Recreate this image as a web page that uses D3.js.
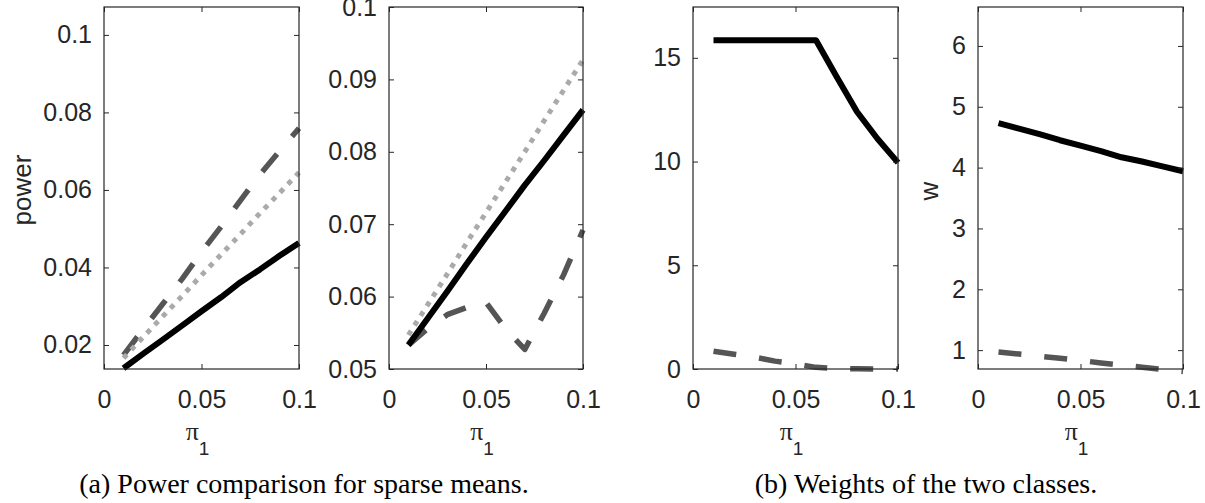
<!DOCTYPE html>
<html>
<head>
<meta charset="utf-8">
<script src="https://cdn.jsdelivr.net/npm/d3@7"></script>
<style>
  body { margin: 0; background: #fff; }
  svg { display: block; }
</style>
</head>
<body>
<div id="chart"></div>
<script>
// pi_1 values shared by every panel
const pi1 = [0.01, 0.02, 0.03, 0.04, 0.05, 0.06, 0.07, 0.08, 0.09, 0.1];

// (a) left panel: power
const powerA_solid  = [0.0140, 0.0177, 0.0213, 0.0250, 0.0287, 0.0323, 0.0362, 0.0395, 0.0430, 0.0463];
const powerA_dashed = [0.0174, 0.0240, 0.0305, 0.0370, 0.0440, 0.0505, 0.0573, 0.0640, 0.0700, 0.0759];
const powerA_dotted = [0.0166, 0.0220, 0.0273, 0.0326, 0.0380, 0.0433, 0.0486, 0.0540, 0.0592, 0.0645];

// (a) right panel: power
const powerB_solid  = [0.0533, 0.0570, 0.0607, 0.0645, 0.0682, 0.0718, 0.0754, 0.0788, 0.0823, 0.0858];
const powerB_dashed = [0.0533, 0.0556, 0.0575, 0.0585, 0.0592, 0.0556, 0.0527, 0.0577, 0.0630, 0.0692];
const powerB_dotted = [0.0547, 0.0589, 0.0631, 0.0674, 0.0716, 0.0758, 0.0800, 0.0843, 0.0885, 0.0927];

// (b) weights
const weightA_solid  = [15.85, 15.85, 15.85, 15.85, 15.85, 15.85, 14.1, 12.4, 11.1, 9.95];
const weightA_dashed = [0.86, 0.71, 0.57, 0.38, 0.25, 0.08, 0.02, 0.01, 0.0, 0.0];
const weightB_solid  = [4.73, 4.64, 4.55, 4.45, 4.36, 4.27, 4.17, 4.10, 4.02, 3.94];
const weightB_dashed = [0.97, 0.935, 0.90, 0.865, 0.83, 0.79, 0.755, 0.72, 0.685, 0.65];

// tick labels
const xTicks = [0, 0.05, 0.1];
const xTickLabels = ["0", "0.05", "0.1"];
const yTicksA = [0.02, 0.04, 0.06, 0.08, 0.1];
const yTicksB = [0.05, 0.06, 0.07, 0.08, 0.09, 0.1];
const yTicksC = [0, 5, 10, 15];
const yTicksD = [1, 2, 3, 4, 5, 6];

const W = 1205, H = 503;
const plotTop = 7, plotBottom = 369;
const axisColor = "#262626";
const tickFont = "Liberation Sans, Arial, sans-serif";

const svg = d3.select("#chart").append("svg")
    .attr("width", W)
    .attr("height", H);

const styles = {
    solid:  {color: "#000000", width: 6,   dash: null},
    dashed: {color: "#555555", width: 5.5, dash: "23,23"},
    dotted: {color: "#aaaaaa", width: 5,   dash: "5,6.4"}
};

function panel(x0, x1, yDomain, yTicks, yFmt, series) {
    const x = d3.scaleLinear().domain([0, 0.1]).range([x0, x1]);
    const y = d3.scaleLinear().domain(yDomain).range([plotBottom, plotTop]);
    const g = svg.append("g");

    const line = d3.line()
        .x((d, i) => x(pi1[i]))
        .y(d => y(d));

    series.forEach(function(s) {
        const st = styles[s.type];
        g.append("path")
            .datum(s.values)
            .attr("d", line)
            .attr("fill", "none")
            .attr("stroke", st.color)
            .attr("stroke-width", st.width)
            .attr("stroke-dasharray", st.dash)
            .attr("stroke-linejoin", "round");
    });

    // inward ticks on all four sides, like matlab
    const tl = 5;
    g.append("g").attr("transform", `translate(0,${plotBottom})`)
        .call(d3.axisBottom(x).tickValues(xTicks).tickSize(-tl).tickPadding(21)
            .tickFormat((d, i) => xTickLabels[i]));
    g.append("g").attr("transform", `translate(0,${plotTop})`)
        .call(d3.axisTop(x).tickValues(xTicks).tickSize(-tl).tickFormat(""));
    g.append("g").attr("transform", `translate(${x0},0)`)
        .call(d3.axisLeft(y).tickValues(yTicks).tickSize(-tl).tickPadding(12).tickFormat(yFmt));
    g.append("g").attr("transform", `translate(${x1},0)`)
        .call(d3.axisRight(y).tickValues(yTicks).tickSize(-tl).tickFormat(""));

    g.selectAll(".domain").remove();
    g.selectAll(".tick line").attr("stroke", axisColor).attr("stroke-width", 1);
    g.selectAll(".tick text")
        .attr("fill", axisColor)
        .style("font-family", tickFont)
        .style("font-size", "25px");

    g.append("rect")
        .attr("x", x0).attr("y", plotTop)
        .attr("width", x1 - x0).attr("height", plotBottom - plotTop)
        .attr("fill", "none")
        .attr("stroke", axisColor)
        .attr("stroke-width", 1.2);

    // pi_1 label
    const lab = g.append("text")
        .attr("x", (x0 + x1) / 2 - 4)
        .attr("y", 440)
        .attr("text-anchor", "middle")
        .attr("fill", axisColor);
    lab.append("tspan").text("π")
        .style("font-family", "Liberation Serif, serif")
        .style("font-size", "26px");
    lab.append("tspan").text("1")
        .attr("dy", 15)
        .style("font-family", tickFont)
        .style("font-size", "19px");

    return {x: x, y: y};
}

const f2 = d => String(+d.toFixed(2));
const fInt = d => String(d);

panel(104, 299, [0.0138, 0.1072], yTicksA, f2, [
    {type: "dashed", values: powerA_dashed},
    {type: "dotted", values: powerA_dotted},
    {type: "solid",  values: powerA_solid}
]);
panel(389, 583, [0.05, 0.1], yTicksB, f2, [
    {type: "dashed", values: powerB_dashed},
    {type: "dotted", values: powerB_dotted},
    {type: "solid",  values: powerB_solid}
]);
panel(693, 898, [0, 17.45], yTicksC, fInt, [
    {type: "dashed", values: weightA_dashed},
    {type: "solid",  values: weightA_solid}
]);
panel(978, 1183, [0.69, 6.64], yTicksD, fInt, [
    {type: "dashed", values: weightB_dashed},
    {type: "solid",  values: weightB_solid}
]);

// y labels
svg.append("text")
    .attr("transform", "translate(31,190) rotate(-90)")
    .attr("text-anchor", "middle")
    .attr("fill", axisColor)
    .style("font-family", tickFont)
    .style("font-size", "26px")
    .text("power");
svg.append("text")
    .attr("transform", "translate(938,191) rotate(-90)")
    .attr("text-anchor", "middle")
    .attr("fill", axisColor)
    .style("font-family", tickFont)
    .style("font-size", "26px")
    .text("w");

// sub captions
const captions = [
    {x: 304, text: "(a) Power comparison for sparse means."},
    {x: 926, text: "(b) Weights of the two classes."}
];
captions.forEach(function(c) {
    svg.append("text")
        .attr("x", c.x)
        .attr("y", 493)
        .attr("text-anchor", "middle")
        .attr("fill", "#000")
        .style("font-family", "Liberation Serif, serif")
        .style("font-size", "28px")
        .text(c.text);
});
</script>
</body>
</html>
